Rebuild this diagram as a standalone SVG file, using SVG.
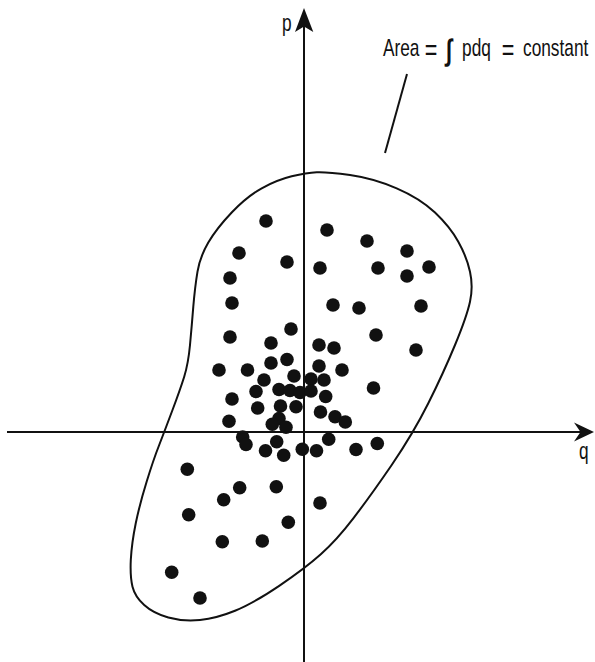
<svg xmlns="http://www.w3.org/2000/svg" width="595" height="662" viewBox="0 0 595 662">
<style>
.ax{stroke:#111;stroke-width:2;fill:none}
.hd{fill:#111;stroke:none}
.blob{stroke:#111;stroke-width:2;fill:none;stroke-linejoin:round}
.lbl{font-family:"Liberation Sans",Arial,sans-serif;font-size:24px;fill:#111}
.pt circle{fill:#111}
</style>
<rect width="595" height="662" fill="#fff"/>
<g id="blob">
<path class="blob" d="M291.7,176.3 Q306.7,172.7 316.7,172.2 Q326.7,171.7 350,175 Q373.3,178.3 396.7,188.3 Q420,198.3 435,212.5 Q450,226.7 458.3,241.7 Q466.7,256.7 470,271.7 Q473.3,286.7 470,301.7 Q466.7,316.7 455,345 Q443.3,373.3 428.3,403.3 Q413.3,433.3 391.7,465 Q370,496.7 353.3,518.3 Q336.7,540 320.8,554.2 Q305,568.3 279.2,585.8 Q253.3,603.3 235,610.8 Q216.7,618.3 200,620 Q183.3,621.7 168.3,617.5 Q153.3,613.3 144.2,605 Q135,596.7 132.5,586.7 Q130,576.7 130.8,559.8 Q131.7,543 135.8,523 Q140,503 146.7,481.5 Q153.3,460 159.2,445 Q165,430 172.5,410 Q180,390 184.2,376.7 Q188.3,363.3 190,345 Q191.7,326.7 193.3,306.7 Q195,286.7 197.5,271.7 Q200,256.7 208.3,242.5 Q216.7,228.3 231.7,212.5 Q246.7,196.7 261.7,188.3 Q276.7,180 291.7,176.3 Z"/>
</g>
<g id="axes">
<line class="ax" x1="304" y1="24" x2="304" y2="662"/>
<line class="ax" x1="7" y1="432" x2="584" y2="432"/>
<path class="hd" d="M304,8 L313.3,32 L304,26.5 L295,32 Z"/>
<path class="hd" d="M594,432 L574,441.5 L580.5,432 L574,422.5 Z"/>
<line class="ax" x1="407" y1="74" x2="385" y2="153"/>
</g>
<g id="points" class="pt">
<circle cx="266" cy="221" r="6.8"/>
<circle cx="327" cy="230" r="6.8"/>
<circle cx="367" cy="241" r="6.8"/>
<circle cx="407" cy="251" r="6.8"/>
<circle cx="239" cy="253" r="6.8"/>
<circle cx="287" cy="262" r="6.8"/>
<circle cx="320" cy="268" r="6.8"/>
<circle cx="378" cy="268" r="6.8"/>
<circle cx="407" cy="276" r="6.8"/>
<circle cx="429" cy="267" r="6.8"/>
<circle cx="230" cy="278" r="6.8"/>
<circle cx="232" cy="303" r="6.8"/>
<circle cx="333" cy="305" r="6.8"/>
<circle cx="359" cy="308" r="6.8"/>
<circle cx="421" cy="306" r="6.8"/>
<circle cx="230" cy="337" r="6.8"/>
<circle cx="291" cy="329" r="6.8"/>
<circle cx="376" cy="335" r="6.8"/>
<circle cx="416" cy="350" r="6.8"/>
<circle cx="271" cy="343" r="6.8"/>
<circle cx="319" cy="345" r="6.8"/>
<circle cx="334" cy="348" r="6.8"/>
<circle cx="219" cy="370" r="6.8"/>
<circle cx="247.5" cy="370" r="6.8"/>
<circle cx="271" cy="363" r="6.8"/>
<circle cx="287" cy="359.5" r="6.8"/>
<circle cx="319" cy="366" r="6.8"/>
<circle cx="342" cy="370" r="6.8"/>
<circle cx="294" cy="376" r="6.8"/>
<circle cx="264" cy="380" r="6.8"/>
<circle cx="311" cy="379" r="6.8"/>
<circle cx="324" cy="380" r="6.8"/>
<circle cx="256" cy="391.5" r="6.8"/>
<circle cx="279" cy="389.5" r="6.8"/>
<circle cx="290" cy="390.5" r="6.8"/>
<circle cx="300" cy="392.5" r="6.8"/>
<circle cx="311" cy="391" r="6.8"/>
<circle cx="325.7" cy="396.5" r="6.8"/>
<circle cx="232" cy="399" r="6.8"/>
<circle cx="373.5" cy="388" r="6.8"/>
<circle cx="280.5" cy="406" r="6.8"/>
<circle cx="296" cy="406.7" r="6.8"/>
<circle cx="257.7" cy="408" r="6.8"/>
<circle cx="320.5" cy="412" r="6.8"/>
<circle cx="335" cy="416.7" r="6.8"/>
<circle cx="345.3" cy="422" r="6.8"/>
<circle cx="229" cy="421.3" r="6.8"/>
<circle cx="279" cy="418.5" r="6.8"/>
<circle cx="272.3" cy="424.3" r="6.8"/>
<circle cx="286" cy="427.3" r="6.8"/>
<circle cx="242.7" cy="437" r="6.8"/>
<circle cx="246" cy="444.5" r="6.8"/>
<circle cx="276.7" cy="441.7" r="6.8"/>
<circle cx="265.5" cy="450.8" r="6.8"/>
<circle cx="283.7" cy="455.2" r="6.8"/>
<circle cx="302.3" cy="449.3" r="6.8"/>
<circle cx="316.5" cy="450.7" r="6.8"/>
<circle cx="328.7" cy="439.2" r="6.8"/>
<circle cx="356" cy="449.5" r="6.8"/>
<circle cx="377.3" cy="443.5" r="6.8"/>
<circle cx="187.3" cy="469.3" r="6.8"/>
<circle cx="239.7" cy="487.7" r="6.8"/>
<circle cx="276.3" cy="486.7" r="6.8"/>
<circle cx="223.7" cy="499.7" r="6.8"/>
<circle cx="320" cy="503" r="6.8"/>
<circle cx="188.7" cy="514.7" r="6.8"/>
<circle cx="288.3" cy="522.3" r="6.8"/>
<circle cx="222.3" cy="541.7" r="6.8"/>
<circle cx="262.3" cy="541" r="6.8"/>
<circle cx="171.7" cy="572.3" r="6.8"/>
<circle cx="200" cy="598" r="6.8"/>
</g>
<g id="labels">
<text class="lbl" transform="scale(0.72,1)" x="391.7" y="31.5">p</text>
<text class="lbl" transform="scale(0.72,1)" x="804.2" y="459">q</text>
<text class="lbl" transform="scale(0.72,1)" y="56.5"><tspan x="531.9" y="56.5">Area</tspan><tspan x="589.9" y="60" font-size="30">=</tspan><tspan x="619.4" y="60" font-size="30" font-weight="700">∫</tspan><tspan x="641.7" y="56.5">pdq</tspan><tspan x="696.8" y="60" font-size="30">=</tspan><tspan x="726.4" y="56.5">constant</tspan></text>
</g>
</svg>
